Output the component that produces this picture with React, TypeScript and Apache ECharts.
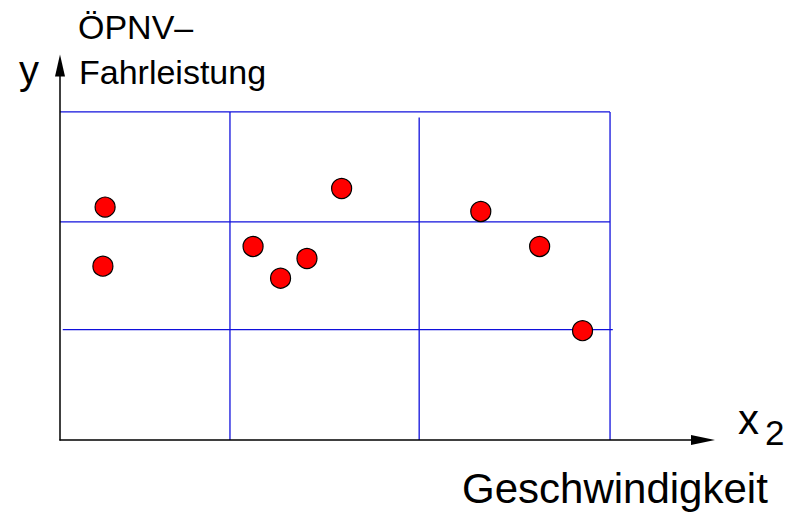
import React, { useEffect, useRef } from "react";
import * as echarts from "echarts";

// Scatter points (x2 = Geschwindigkeit, y = ÖPNV-Fahrleistung), arbitrary units
const pointsX = [8.2, 7.8, 35.1, 40.1, 44.9, 51.2, 76.5, 87.2, 95.0];
const pointsY = [21.3, 15.9, 17.7, 14.8, 16.6, 23.0, 20.9, 17.7, 10.0];

// Blue classification grid lines
const hLineY = [30, 19.95, 10.1];
const hLineX0 = [0, 0, 0.5];
const hLineX1 = [100, 100, 100.5];
const vLineX = [30.9, 65.3, 100];
const vLineY0 = [0, 0, 0];
const vLineY1 = [30, 29.5, 30];

const yTitleLines = ["ÖPNV–", "Fahrleistung"];
const xTitle = "Geschwindigkeit";

export default function App() {
  const ref = useRef<HTMLDivElement>(null);
  useEffect(() => {
    if (!ref.current) return;
    const chart = echarts.init(ref.current, undefined, { renderer: "svg" });
    const blue = "#1010dc";
    const lineSeries: any[] = [];
    hLineY.forEach((y, i) => {
      lineSeries.push({
        type: "line",
        data: [[hLineX0[i], y], [hLineX1[i], y]],
        symbol: "none",
        lineStyle: { color: blue, width: 1.3 },
        silent: true,
        z: 1,
      });
    });
    vLineX.forEach((x, i) => {
      lineSeries.push({
        type: "line",
        data: [[x, vLineY0[i]], [x, vLineY1[i]]],
        symbol: "none",
        lineStyle: { color: blue, width: 1.3 },
        silent: true,
        z: 1,
      });
    });
    const font = "'Liberation Sans', Arial, sans-serif";
    chart.setOption({
      animation: false,
      backgroundColor: "#ffffff",
      grid: { left: 60, right: 98, top: 65.5, bottom: 75 },
      xAxis: {
        type: "value",
        min: 0,
        max: 116.9,
        axisLine: {
          show: true,
          symbol: ["none", "triangle"],
          symbolSize: [10, 24],
          lineStyle: { color: "#000", width: 1.5 },
        },
        axisTick: { show: false },
        axisLabel: { show: false },
        splitLine: { show: false },
        z: 5,
      },
      yAxis: {
        type: "value",
        min: 0,
        max: 34.25,
        axisLine: {
          show: true,
          symbol: ["none", "triangle"],
          symbolSize: [10, 22],
          lineStyle: { color: "#000", width: 1.5 },
        },
        axisTick: { show: false },
        axisLabel: { show: false },
        splitLine: { show: false },
        z: 5,
      },
      series: [
        ...lineSeries,
        {
          type: "scatter",
          data: pointsX.map((x, i) => [x, pointsY[i]]),
          symbol: "circle",
          symbolSize: 20,
          itemStyle: { color: "#ff0000", borderColor: "#000", borderWidth: 1.2, opacity: 1 },
          z: 3,
        },
      ],
      graphic: [
        { type: "text", left: 78, top: 10, style: { text: yTitleLines[0], font: `34px ${font}`, fill: "#000" } },
        { type: "text", left: 79, top: 55, style: { text: yTitleLines[1], font: `34px ${font}`, fill: "#000" } },
        { type: "text", left: 19, top: 50, style: { text: "y", font: `40px ${font}`, fill: "#000" } },
        { type: "text", left: 738, top: 398, style: { text: "x", font: `42px ${font}`, fill: "#000" } },
        { type: "text", left: 765, top: 415, style: { text: "2", font: `35px ${font}`, fill: "#000" } },
        { type: "text", left: 462, top: 467, style: { text: xTitle, font: `42px ${font}`, fill: "#000" } },
      ],
    });
    return () => chart.dispose();
  }, []);
  return <div ref={ref} style={{ width: 801, height: 515, position: "absolute", left: 0, top: 0 }} />;
}
